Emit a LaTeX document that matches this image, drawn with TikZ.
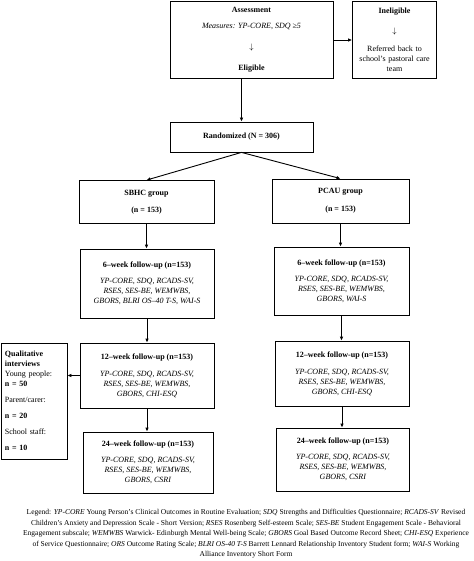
\documentclass[tikz,border=0pt]{standalone}
\usepackage{fontspec}
\setmainfont{Liberation Serif}
\usepackage{tikz}
\usetikzlibrary{arrows.meta,positioning}
\tikzset{
  box/.style={draw=black, line width=0.8pt, align=center, inner sep=2pt, font=\fontsize{8}{10}\selectfont},
  groupbox/.style={box, minimum width=136pt, minimum height=43pt},
  stagebox/.style={box, minimum width=134pt},
  sidebox/.style={box, align=left, text width=58pt, inner sep=0pt, minimum height=116pt},
  legendtext/.style={align=center, inner sep=0pt, font=\fontsize{7.5}{10.5}\selectfont},
  arrow/.style={-{Latex[length=4pt,width=3.6pt]}, line width=0.9pt}
}

\begin{document}
\begin{tikzpicture}[x=1pt,y=-1pt]
\useasboundingbox (0,0) rectangle (473,561);
\node[box, minimum width=163pt, minimum height=77pt] (assess) at (251.5,40) {\textbf{Assessment}\\[6pt]\textit{Measures: YP-CORE, SDQ ≥5}\\[11pt]$\downarrow$\\[11pt]\textbf{Eligible}};
\node[box, text width=80pt, minimum width=83pt, minimum height=77pt] (inel) at (394.5,40) {\textbf{Ineligible}\\[10pt]$\downarrow$\\[8pt]Referred back to\\school's pastoral care\\team};
\node[box, minimum width=143pt, minimum height=30pt] (rand) at (241.5,137) {\textbf{Randomized (N = 306)}};
\node[groupbox, minimum width=135pt] (sbhc) at (146.5,202) {\textbf{SBHC group}\\[7pt]\textbf{(n = 153)}};
\node[groupbox, minimum width=137pt, minimum height=44pt] (pcau) at (340.5,201) {\textbf{PCAU group}\\[8pt]\textbf{(n = 153)}};
\node[stagebox, minimum height=69pt] (w6a) at (147,283.5) {\textbf{6--week follow-up (n=153)}\\[6pt]\textit{YP-CORE, SDQ, RCADS-SV,}\\\textit{RSES, SES-BE, WEMWBS,}\\\textit{GBORS, BLRI OS--40 T-S, WAI-S}};
\node[stagebox, minimum width=135pt, minimum height=68pt] (w6b) at (341.5,281) {\textbf{6--week follow-up (n=153)}\\[6pt]\textit{YP-CORE, SDQ, RCADS-SV,}\\\textit{RSES, SES-BE, WEMWBS,}\\\textit{GBORS, WAI-S}};
\node[stagebox, minimum height=65pt] (w12a) at (147,375.5) {\textbf{12--week follow-up (n=153)}\\[7pt]\textit{YP-CORE, SDQ, RCADS-SV,}\\\textit{RSES, SES-BE, WEMWBS,}\\\textit{GBORS, CHI-ESQ}};
\node[stagebox, minimum height=65pt] (w12b) at (342,373.5) {\textbf{12--week follow-up (n=153)}\\[7pt]\textit{YP-CORE, SDQ, RCADS-SV,}\\\textit{RSES, SES-BE, WEMWBS,}\\\textit{GBORS, CHI-ESQ}};
\node[stagebox, minimum width=130pt, minimum height=61pt] (w24a) at (148,462.5) {\textbf{24--week follow-up (n=153)}\\[6pt]\textit{YP-CORE, SDQ, RCADS-SV,}\\\textit{RSES, SES-BE, WEMWBS,}\\\textit{GBORS, CSRI}};
\node[stagebox, minimum width=133pt, minimum height=63pt] (w24b) at (343,459.5) {\textbf{24--week follow-up (n=153)}\\[6pt]\textit{YP-CORE, SDQ, RCADS-SV,}\\\textit{RSES, SES-BE, WEMWBS,}\\\textit{GBORS, CSRI}};
\node[sidebox, minimum width=66pt] (qual) at (34,401) {\textbf{Qualitative}\\\textbf{interviews}\\Young people:\\\textbf{n = 50}\\[6pt]Parent/carer:\\[6pt]\textbf{n = 20}\\[6pt]School staff:\\[6pt]\textbf{n = 10}};
\node[legendtext] (legend) at (246,534) {Legend: \textit{YP-CORE} Young Person's Clinical Outcomes in Routine Evaluation; \textit{SDQ} Strengths and Difficulties Questionnaire; \textit{RCADS-SV} Revised\\Children's Anxiety and Depression Scale - Short Version; \textit{RSES} Rosenberg Self-esteem Scale; \textit{SES-BE} Student Engagement Scale - Behavioral\\Engagement subscale; \textit{WEMWBS} Warwick- Edinburgh Mental Well-being Scale; \textit{GBORS} Goal Based Outcome Record Sheet; \textit{CHI-ESQ} Experience\\of Service Questionnaire; \textit{ORS} Outcome Rating Scale; \textit{BLRI OS-40 T-S} Barrett Lennard Relationship Inventory Student form; \textit{WAI-S} Working\\Alliance Inventory Short Form};
\draw[arrow] (assess.east) -- (inel.west);
\draw[arrow] (assess.south -| rand.north) -- (rand.north);
\draw[arrow] (rand.south) -- (sbhc.north);
\draw[arrow] (rand.south) -- (pcau.north);
\draw[arrow] (sbhc.south) -- (sbhc.south |- w6a.north);
\draw[arrow] (pcau.south) -- (pcau.south |- w6b.north);
\draw[arrow] (w6a.south) -- (w6a.south |- w12a.north);
\draw[arrow] (w6b.south) -- (w6b.south |- w12b.north);
\draw[arrow] (w12a.south) -- (w12a.south |- w24a.north);
\draw[arrow] (w12b.south) -- (w12b.south |- w24b.north);
\draw[arrow] (w12a.west) -- (w12a.west -| qual.east);
\end{tikzpicture}
\end{document}
